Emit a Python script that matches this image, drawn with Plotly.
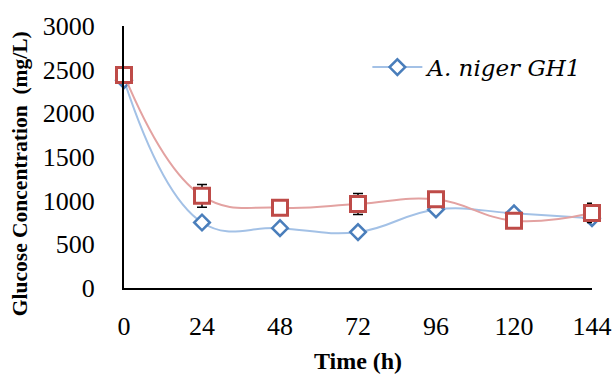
import plotly.graph_objects as go

time_h = [0, 24, 48, 72, 96, 120, 144]
tick_labels = ["0", "24", "48", "72", "96", "120", "144"]
glucose_niger = [2380, 750, 685, 640, 900, 855, 800]
glucose_other = [2440, 1055, 920, 962, 1015, 770, 860]
err_other = [0, 130, 20, 120, 30, 20, 110]

font_family = "Liberation Serif, Times New Roman, serif"

fig = go.Figure()
fig.add_trace(go.Scatter(
    x=time_h, y=glucose_niger, name="<i>A. niger GH1</i>", mode="lines+markers",
    line=dict(color="#A3C1E6", width=2, shape="spline", smoothing=1.2),
    marker=dict(symbol="diamond", size=12, color="white",
                line=dict(color="#4A7EBB", width=2.5)),
    cliponaxis=False, showlegend=True,
))
fig.add_trace(go.Scatter(
    x=time_h, y=glucose_other, name="other", mode="lines+markers",
    line=dict(color="#E3A2A1", width=2, shape="spline", smoothing=1.2),
    marker=dict(symbol="square", size=15, color="white",
                line=dict(color="#BE4B48", width=3)),
    error_y=dict(type="data", array=err_other, color="black", thickness=1.5, width=5),
    cliponaxis=False, showlegend=False,
))

fig.update_layout(
    width=616, height=374,
    margin=dict(l=124, r=24, t=26, b=86, autoexpand=False),
    paper_bgcolor="white", plot_bgcolor="white",
    font=dict(family=font_family, color="black", size=26),
    legend=dict(x=0.52, y=0.843, xanchor="left", yanchor="middle", itemwidth=50,
                font=dict(family="DejaVu Serif", size=23),
                bgcolor="rgba(0,0,0,0)"),
    xaxis=dict(range=[0, 144], tickvals=time_h, ticktext=tick_labels, automargin=False,
               showline=True, linecolor="black", linewidth=2, showgrid=False,
               zeroline=False, ticks="", ticklabelstandoff=14,
               title=dict(text="<b>Time (h)</b>", font=dict(size=24), standoff=12)),
    yaxis=dict(range=[0, 3000], dtick=500, automargin=False,
               showline=True, linecolor="black", linewidth=2, showgrid=False,
               zeroline=False, ticks="", ticklabelstandoff=22),
    annotations=[dict(text="<b>Glucose Concentration  (mg/L)</b>", textangle=-90,
                      xref="paper", yref="paper", x=-0.222, y=0.435,
                      xanchor="center", yanchor="middle", showarrow=False,
                      font=dict(size=21.5))],
)

fig.write_html("out.html")
